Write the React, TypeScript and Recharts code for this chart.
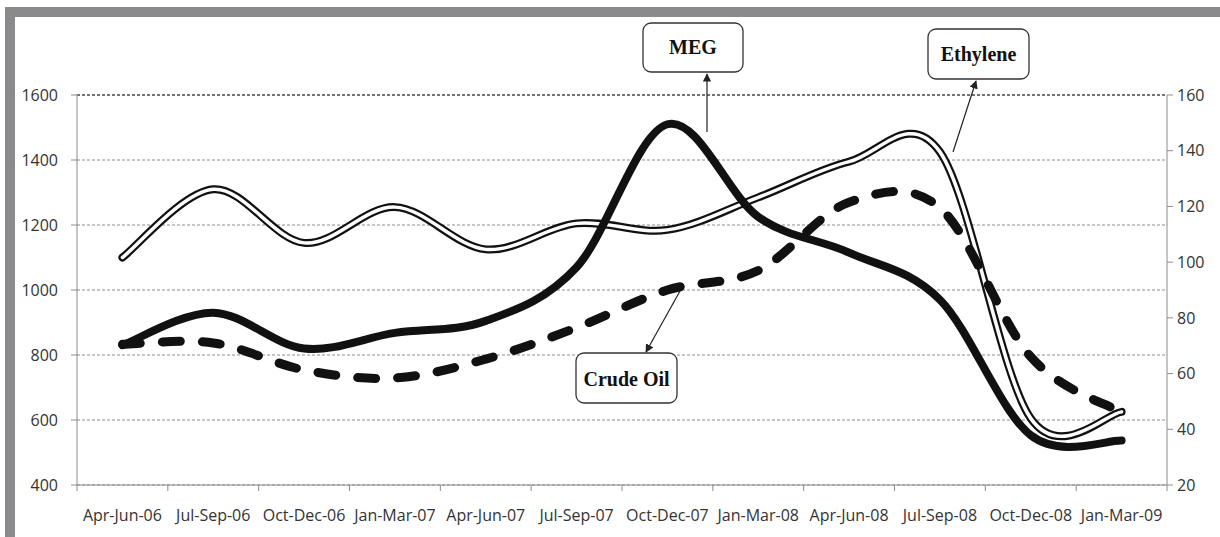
import React from "react";
import {
  LineChart,
  Line,
  XAxis,
  YAxis,
  CartesianGrid,
  ReferenceLine,
} from "recharts";

// quarterly prices: MEG and Ethylene on the left axis, Crude Oil on the right
const quarters = [
  "Apr-Jun-06",
  "Jul-Sep-06",
  "Oct-Dec-06",
  "Jan-Mar-07",
  "Apr-Jun-07",
  "Jul-Sep-07",
  "Oct-Dec-07",
  "Jan-Mar-08",
  "Apr-Jun-08",
  "Jul-Sep-08",
  "Oct-Dec-08",
  "Jan-Mar-09",
];
const ethylene = [1100, 1310, 1145, 1255, 1125, 1205, 1185, 1285, 1395, 1425, 605, 625];
const meg = [830, 930, 820, 868, 905, 1070, 1510, 1225, 1115, 970, 553, 537];
const crudeOil = [70.5, 71, 61.3, 58.4, 65.2, 76.5, 90, 97, 121.5, 119.5, 66, 46];

const leftTicks = [400, 600, 800, 1000, 1200, 1400, 1600];
const rightTicks = [20, 40, 60, 80, 100, 120, 140, 160];

const data = quarters.map((q, i) => ({
  pos: i + 0.5,
  quarter: q,
  ethylene: ethylene[i],
  meg: meg[i],
  crude: crudeOil[i],
}));

// tick marks sit on the boundaries between quarters
const bounds = quarters.map((_, i) => i).concat(quarters.length);

const W = 1220;
const H = 537;
const PLOT_W = 1090;
const FONT = "'Open Sans', sans-serif";

// smoothing like the spreadsheet's "smoothed line" (Catmull-Rom as bezier)
const smooth = (context: any) => {
  let pts: number[][] = [];
  return {
    areaStart() {},
    areaEnd() {},
    lineStart() {
      pts = [];
    },
    point(x: number, y: number) {
      pts.push([+x, +y]);
    },
    lineEnd() {
      const n = pts.length;
      if (!n) return;
      context.moveTo(pts[0][0], pts[0][1]);
      for (let i = 0; i < n - 1; i++) {
        const p0 = pts[Math.max(i - 1, 0)];
        const p1 = pts[i];
        const p2 = pts[i + 1];
        const p3 = pts[Math.min(i + 2, n - 1)];
        context.bezierCurveTo(
          p1[0] + (p2[0] - p0[0]) / 6,
          p1[1] + (p2[1] - p0[1]) / 6,
          p2[0] - (p3[0] - p1[0]) / 6,
          p2[1] - (p3[1] - p1[1]) / 6,
          p2[0],
          p2[1]
        );
      }
    },
  };
};

const QuarterTick = (props: any) => {
  const { x, y, payload } = props;
  const i = Math.round(payload.value);
  if (i >= quarters.length) return null;
  const band = PLOT_W / quarters.length;
  return (
    <text
      x={x + band / 2}
      y={y + 28}
      textAnchor="middle"
      fill="#333"
      fontSize={16}
      fontFamily={FONT}
    >
      {quarters[i]}
    </text>
  );
};

const Callout = ({ box, text, from, to }: any) => (
  <g>
    <line
      x1={from[0]}
      y1={from[1]}
      x2={to[0]}
      y2={to[1]}
      stroke="#222"
      strokeWidth={1.2}
      markerEnd="url(#arrow)"
    />
    <rect
      x={box[0]}
      y={box[1]}
      width={box[2]}
      height={box[3]}
      rx={8}
      fill="#fff"
      stroke="#333"
      strokeWidth={1.3}
    />
    <text
      x={box[0] + box[2] / 2}
      y={box[4]}
      textAnchor="middle"
      fontFamily="'Liberation Serif', serif"
      fontWeight="bold"
      fontSize={20}
      fill="#111"
    >
      {text}
    </text>
  </g>
);

export default function App() {
  return (
    <div
      style={{
        position: "absolute",
        left: 0,
        top: 0,
        width: W,
        height: H,
        overflow: "hidden",
        background: "#fff",
      }}
    >
      <div
        style={{
          position: "absolute",
          left: 5,
          top: 7,
          width: 1230,
          height: 540,
          border: "10px solid #8a8a8c",
          background: "#fff",
        }}
      />

      <div style={{ position: "absolute", left: 0, top: 0 }}>
        <LineChart
          width={W}
          height={H}
          data={data}
          margin={{ top: 95, right: 8, bottom: 22, left: 17 }}
        >
          <CartesianGrid
            yAxisId="left"
            vertical={false}
            stroke="#8c8c8c"
            strokeDasharray="3 2"
          />

          <ReferenceLine
            yAxisId="left"
            y={1600}
            stroke="#222"
            strokeDasharray="3 2"
          />

          <XAxis
            dataKey="pos"
            type="number"
            domain={[0, quarters.length]}
            ticks={bounds}
            interval={0}
            height={30}
            tickSize={6}
            stroke="#8c8c8c"
            tick={<QuarterTick />}
          />

          <YAxis
            yAxisId="left"
            domain={[400, 1600]}
            ticks={leftTicks}
            interval={0}
            width={60}
            tickSize={6}
            tickMargin={13}
            stroke="#8c8c8c"
            tick={{ fill: "#333", fontSize: 16, fontFamily: FONT }}
          />

          <YAxis
            yAxisId="right"
            orientation="right"
            domain={[20, 160]}
            ticks={rightTicks}
            interval={0}
            width={45}
            tickSize={6}
            tickMargin={4}
            stroke="#8c8c8c"
            tick={{ fill: "#333", fontSize: 16, fontFamily: FONT }}
          />

          {/* Ethylene: double line, black outline with white core */}
          <Line
            yAxisId="left"
            dataKey="ethylene"
            type={smooth as any}
            stroke="#111"
            strokeWidth={8}
            strokeLinecap="round"
            dot={false}
            activeDot={false}
            isAnimationActive={false}
          />
          <Line
            yAxisId="left"
            dataKey="ethylene"
            type={smooth as any}
            stroke="#fff"
            strokeWidth={3.5}
            strokeLinecap="round"
            dot={false}
            activeDot={false}
            isAnimationActive={false}
          />

          <Line
            yAxisId="right"
            dataKey="crude"
            type={smooth as any}
            stroke="#111"
            strokeWidth={9}
            strokeDasharray="18 22"
            strokeLinecap="round"
            dot={false}
            activeDot={false}
            isAnimationActive={false}
          />

          <Line
            yAxisId="left"
            dataKey="meg"
            type={smooth as any}
            stroke="#111"
            strokeWidth={8}
            strokeLinecap="round"
            dot={false}
            activeDot={false}
            isAnimationActive={false}
          />
        </LineChart>
      </div>

      <svg
        width={W}
        height={H}
        style={{ position: "absolute", left: 0, top: 0, pointerEvents: "none" }}
      >
        <defs>
          <marker
            id="arrow"
            viewBox="0 0 10 10"
            refX={9}
            refY={5}
            markerWidth={7}
            markerHeight={7}
            orient="auto"
          >
            <path d="M0,0 L10,5 L0,10 z" fill="#222" />
          </marker>
        </defs>
        <Callout box={[643, 23, 100, 49, 54]} text="MEG" from={[707, 132]} to={[707, 74]} />
        <Callout box={[928, 29, 101, 50, 61]} text="Ethylene" from={[953, 152]} to={[976, 81]} />
        <Callout box={[576, 353, 101, 50, 386]} text="Crude Oil" from={[680, 291]} to={[646, 352]} />
      </svg>
    </div>
  );
}
